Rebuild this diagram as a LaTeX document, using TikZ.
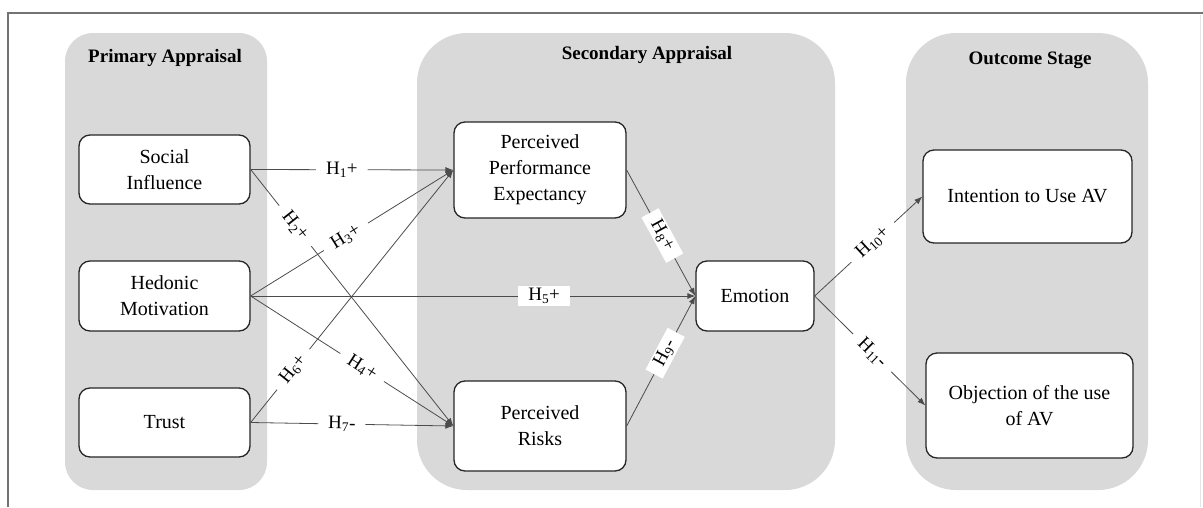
\documentclass[tikz,border=0pt]{standalone}
\usepackage{fontspec}
\setmainfont{Liberation Serif}
\usepackage{tikz}
\usetikzlibrary{arrows.meta,shapes}

\tikzset{
  panel/.style={fill=black!15, draw=none},
  title/.style={font=\fontsize{19}{23}\selectfont\bfseries},
  box/.style={draw=black!85, line width=1.3pt, rounded corners=11pt, fill=white,
    align=center, inner sep=0pt, font=\fontsize{20}{26}\selectfont},
  link/.style={draw=black!70, line width=0.8pt, -{Latex[length=8pt,width=6pt]}},
  hyp/.style={fill=white, sloped, inner xsep=10pt, inner ysep=2pt,
    font=\fontsize{19}{22}\selectfont}
}

\begin{document}
\begin{tikzpicture}[x=1pt,y=-1pt]
    \useasboundingbox (0,0) rectangle (1203,507);
    \draw[black!55, line width=1.4pt] (8,507) -- (8,13) -- (1203,13);
    \draw[black!10, line width=1pt] (1200,15) -- (1200,507);

    \fill[panel, rounded corners=28pt] (65,33) rectangle (267,490);
    \fill[panel, rounded corners=50pt] (417,33) rectangle (835,490);
    \fill[panel, rounded corners=50pt] (906,33) rectangle (1148,490);

    \node[title] (t1) at (165,58) {Primary Appraisal};
    \node[title] (t2) at (647,55) {Secondary Appraisal};
    \node[title] (t3) at (1030,60) {Outcome Stage};

    \node[box, minimum width=171pt, minimum height=69pt] (si) at (164.5,169.5) {Social\\Influence};
    \node[box, minimum width=171pt, minimum height=70pt] (hm) at (164.5,296) {Hedonic\\Motivation};
    \node[box, minimum width=171pt, minimum height=69pt] (tr) at (164.5,422.5) {Trust};
    \node[box, minimum width=172pt, minimum height=96pt] (ppe) at (540,170) {Perceived\\Performance\\Expectancy};
    \node[box, minimum width=172pt, minimum height=90pt] (pr) at (540,426) {Perceived\\Risks};
    \node[box, minimum width=118pt, minimum height=70pt] (emo) at (755,296) {Emotion};
    \node[box, minimum width=209pt, minimum height=93pt] (int) at (1027.5,196.5) {Intention to Use AV};
    \node[box, minimum width=207pt, minimum height=105pt] (obj) at (1029.5,405.5) {Objection of the use\\of AV};

    \draw[link] (si.east) -- node[hyp, pos=.45] {H\textsubscript{1}+} (ppe.west);
    \draw[link] (si.east) -- node[hyp, pos=.22] {H\textsubscript{2}+} (pr.west);
    \draw[link] (hm.east) -- node[hyp, pos=.47] {H\textsubscript{3}+} (ppe.west);
    \draw[link] (hm.east) -- node[hyp, pos=.55] {H\textsubscript{4}+} (pr.west);
    \draw[link] (hm.east) -- node[hyp, pos=.66] {H\textsubscript{5}+} (emo.west);
    \draw[link] (tr.east) -- node[hyp, pos=.21] {H\textsubscript{6}+} (ppe.west);
    \draw[link] (tr.east) -- node[hyp, pos=.45] {H\textsubscript{7}-} (pr.west);
    \draw[link] (ppe.east) -- node[hyp, pos=.52] {H\textsubscript{8}+} (emo.west);
    \draw[link] (pr.east) -- node[hyp, pos=.56] {H\textsubscript{9}-} (emo.west);
    \draw[link] (emo.east) -- node[hyp, pos=.54] {H\textsubscript{10}+} (int.west);
    \draw[link] (emo.east) -- node[hyp, pos=.52] {H\textsubscript{11}-} (obj.west);
\end{tikzpicture}
\end{document}
